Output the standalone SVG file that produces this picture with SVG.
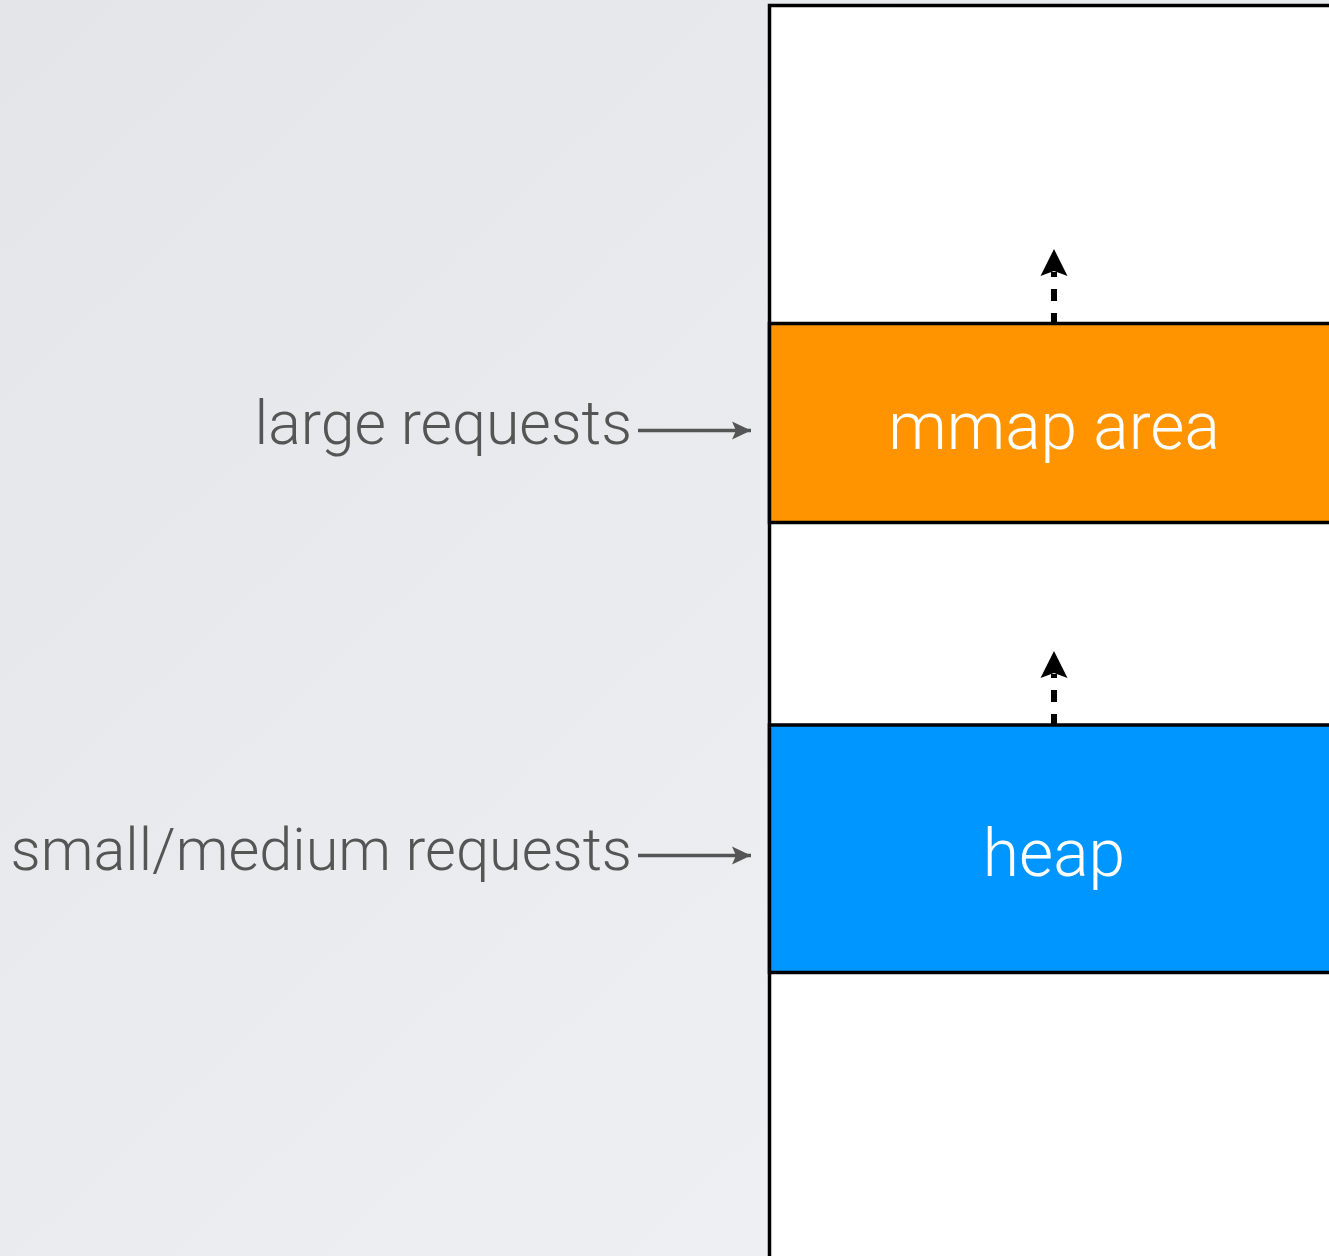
<svg xmlns="http://www.w3.org/2000/svg" width="1329" height="1256" viewBox="0 0 1329 1256">
  <defs>
    <linearGradient id="bg" x1="0" y1="0" x2="1" y2="1">
      <stop offset="0" stop-color="#e3e5e8"/>
      <stop offset="1" stop-color="#f1f2f4"/>
    </linearGradient>
    <marker id="grayHead" viewBox="0 0 20 20" refX="19" refY="10" markerWidth="20" markerHeight="20" markerUnits="userSpaceOnUse" orient="auto">
      <path d="M0,1 L19,10 L0,19 L4,10 Z" fill="#555555"/>
    </marker>
  </defs>
  <style>
    .lbl { font-family: Roboto, "Liberation Sans", Arial, sans-serif; font-weight: 300; font-size: 60px; fill: #555555; }
    .inner { font-family: Roboto, "Liberation Sans", Arial, sans-serif; font-weight: 300; font-size: 66px; fill: #ffffff; text-anchor: middle; }
    .box { stroke: #000000; stroke-width: 3.5; }
    .req { stroke: #555555; stroke-width: 3.5; fill: none; }
    .grow { stroke: #000000; stroke-width: 6; stroke-dasharray: 12 12; fill: none; }
    .growHead { fill: #000000; }
  </style>
  <rect x="0" y="0" width="1329" height="1256" fill="url(#bg)"/>

  <g id="memory">
    <rect x="769.5" y="5.5" width="600" height="1300" fill="#ffffff" class="box"/>
  </g>
  <g id="mmap-area">
    <rect x="769.5" y="323.5" width="600" height="199" fill="#ff9400" class="box"/>
    <text class="inner" x="1054" y="449">mmap area</text>
  </g>
  <g id="heap">
    <rect x="769.5" y="725" width="600" height="247.5" fill="#0096ff" class="box"/>
    <text class="inner" x="1054" y="876">heap</text>
  </g>
  <g id="large-requests">
    <text class="lbl" x="632" y="444" text-anchor="end" style="font-size:60.8px">large requests</text>
  </g>
  <g id="small-medium-requests">
    <text class="lbl" x="632" y="870" text-anchor="end" style="font-size:59.5px">small/medium requests</text>
  </g>

  <g id="connectors">
    <line class="req" x1="638" y1="430.5" x2="751" y2="430.5" marker-end="url(#grayHead)"/>
    <line class="req" x1="638" y1="855.5" x2="751" y2="855.5" marker-end="url(#grayHead)"/>
    <line class="grow" x1="1054" y1="325" x2="1054" y2="272"/>
    <path class="growHead" d="M1054,249 L1067.5,276 L1054,271 L1040.5,276 Z"/>
    <line class="grow" x1="1054" y1="726" x2="1054" y2="674"/>
    <path class="growHead" d="M1054,651 L1067.5,678 L1054,673 L1040.5,678 Z"/>
  </g>
</svg>
